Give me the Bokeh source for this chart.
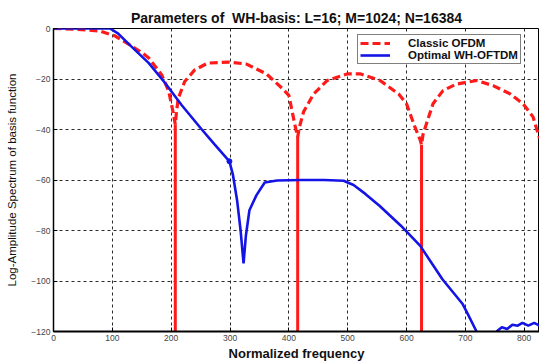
from bokeh.plotting import figure
from bokeh.models import Range1d, Legend, LegendItem, FixedTicker
from bokeh.embed import file_html
from bokeh.resources import INLINE

# Classic OFDM spectrum (dashed red)
freq_ofdm = [0, 40, 79, 105, 129, 150, 162, 184, 196, 204, 207,
             209, 212, 223, 240, 262, 299, 328, 362, 390, 400, 411, 415,
             418, 425, 442, 465, 499, 522, 555, 587, 600, 614, 623, 625.5,
             628, 634, 645, 662, 685, 719, 747, 776, 798, 815, 826]
db_ofdm = [0, -0.3, -1.0, -3.0, -6.4, -9.5, -11.7, -18.4, -25, -34, -38,
           -33, -27.7, -21, -16.4, -13.7, -13.3, -14.1, -18, -24, -26.5, -39, -43,
           -39, -33, -26, -20.6, -18, -18, -20.6, -26, -29.8, -38.9, -44, -46,
           -42, -37.6, -29.8, -24.6, -22, -20.6, -22.6, -25.9, -29.8, -35, -43.5]

# Deep nulls of the classic OFDM spectrum (solid red drop-outs)
null_freq = [207, 415, 625.5]
null_top = [-38, -43, -46]

# Optimal WH-OFTDM spectrum (solid blue); NaN = below the axis floor
freq_wh = [0, 50, 96, 110, 129, 162, 190, 218, 251, 273, 299, 305, 312, 318, 323,
           327, 333, 345, 359, 380, 420, 460, 493, 510, 530, 554, 590, 623, 661,
           695, 704, 719, 736,
           753, 762, 771, 780, 789, 797, 807, 817, 826]
db_wh = [0, 0, 0, -2, -6.4, -13.7, -21.7, -30.4, -39.7, -45.7, -52.6, -58, -68, -80, -93,
         -82, -72, -66, -61, -60.2, -60, -60, -60.3, -62, -65.5, -70.2, -78, -86, -99.3,
         -109, -113, -120, float("nan"),
         -120, -118.3, -119, -117.3, -117.7, -116.6, -117.7, -116.6, -117.7]
dot_freq = [299]
dot_db = [-52.6]

x_ticks = [0, 100, 200, 300, 400, 500, 600, 700, 800]
y_ticks = [-120, -100, -80, -60, -40, -20, 0]

title_text = "Parameters of\u00a0 WH-basis: L=16; M=1024; N=16384"
x_label = "Normalized frequency"
y_label = "Log-Amplitude Spectrum of basis function"
series_names = ["Classic OFDM", "Optimal WH-OFTDM"]

FONT = "Liberation Sans"
RED = "#ff1a1a"
BLUE = "#1414e6"

p = figure(width=539, height=363, output_backend="svg", toolbar_location=None,
           x_range=Range1d(0, 826), y_range=Range1d(-120, 0),
           min_border_left=53, min_border_right=0, min_border_top=28,
           min_border_bottom=30)
p.background_fill_color = "white"
p.border_fill_color = "white"
p.outline_line_color = "black"
p.outline_line_width = 1

p.title.text = title_text
p.title.align = "center"
p.title.text_font = FONT
p.title.text_font_size = "14px"
p.title.text_font_style = "bold"
p.title.text_color = "#111111"
p.title.standoff = 6
p.title.offset = 0

for ax in (p.xaxis[0], p.yaxis[0]):
    ax.major_label_text_font = FONT
    ax.major_label_text_font_size = "8.5px"
    ax.major_label_text_color = "#444444"
    ax.major_tick_in = 4
    ax.major_tick_out = 0
    ax.minor_tick_in = 0
    ax.minor_tick_out = 0
    ax.axis_line_color = "black"
    ax.major_tick_line_color = "black"
    ax.axis_label_text_font = FONT
    ax.axis_label_text_color = "#111111"
    ax.major_label_standoff = 3

p.xaxis[0].ticker = FixedTicker(ticks=x_ticks)
p.yaxis[0].ticker = FixedTicker(ticks=y_ticks)
p.xaxis[0].axis_line_width = 2
p.yaxis[0].axis_line_width = 1.5
p.xaxis[0].axis_label = x_label
p.xaxis[0].axis_label_text_font_size = "13px"
p.xaxis[0].axis_label_text_font_style = "bold"
p.xaxis[0].axis_label_standoff = 2
p.yaxis[0].axis_label = y_label
p.yaxis[0].axis_label_text_font_size = "11.5px"
p.yaxis[0].axis_label_text_font_style = "normal"
p.yaxis[0].axis_label_standoff = 10

p.xgrid.grid_line_color = "#2a2a2a"
p.ygrid.grid_line_color = "#2a2a2a"
p.xgrid.grid_line_dash = "3 3"
p.ygrid.grid_line_dash = "3 3"
p.xgrid.grid_line_width = 1
p.ygrid.grid_line_width = 1
p.xgrid.ticker = FixedTicker(ticks=x_ticks)
p.ygrid.ticker = FixedTicker(ticks=y_ticks)

r_red = p.line(freq_ofdm, db_ofdm, line_color=RED, line_width=3.2, line_dash="8 4")
p.segment(x0=null_freq, y0=null_top, x1=null_freq, y1=[-120] * len(null_freq),
          line_color=RED, line_width=3)
r_blue = p.line(freq_wh, db_wh, line_color=BLUE, line_width=2.6)
p.scatter(dot_freq, dot_db, size=5, color=BLUE)

legend = Legend(items=[LegendItem(label=series_names[0], renderers=[r_red]),
                       LegendItem(label=series_names[1], renderers=[r_blue])],
                location=(304, 267))
legend.label_text_font = FONT
legend.label_text_font_size = "11.5px"
legend.label_text_font_style = "bold"
legend.label_text_color = "#111111"
legend.glyph_width = 30
legend.glyph_height = 10
legend.label_height = 11
legend.label_standoff = 18
legend.spacing = 0
legend.padding = 2
legend.margin = 0
legend.border_line_color = "black"
legend.border_line_width = 1
legend.background_fill_alpha = 1
p.add_layout(legend, "center")

open("out.html", "w").write(file_html(p, INLINE))
